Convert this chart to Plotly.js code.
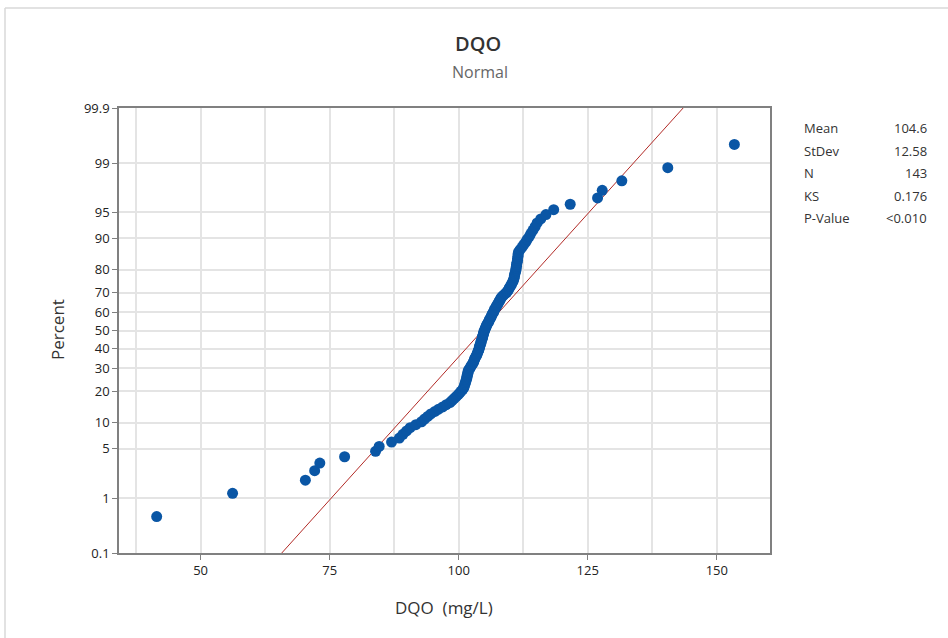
<!DOCTYPE html>
<html>
<head>
<meta charset="utf-8">
<script src="https://cdn.plot.ly/plotly-3.0.1.min.js"></script>
<style>html,body{margin:0;padding:0;background:#fff;}#chart{width:948px;height:638px;}</style>
</head>
<body>
<div id="chart"></div>
<script>
var dqoValues = [
  41.5, 56.2, 70.3, 72.1, 73.1, 77.9,
  83.9, 84.6, 87.0, 88.5, 89.2, 89.9, 90.6, 91.7, 92.8, 93.4,
  94.0, 94.6, 95.4, 96.1, 96.9, 97.6, 98.3, 98.7, 99.1, 99.5,
  99.9, 100.2, 100.5, 100.8, 101.0, 101.1, 101.2, 101.3, 101.4, 101.5,
  101.6, 101.6, 101.7, 101.8, 101.8, 101.9, 102.1, 102.3, 102.4, 102.6,
  102.8, 102.9, 103.0, 103.1, 103.2, 103.4, 103.5, 103.6, 103.7, 103.8,
  103.9, 104.0, 104.0, 104.1, 104.2, 104.3, 104.3, 104.4, 104.5, 104.6,
  104.6, 104.7, 104.8, 104.8, 104.9, 105.0, 105.1, 105.2, 105.3, 105.4,
  105.5, 105.7, 105.8, 105.9, 106.0, 106.2, 106.3, 106.4, 106.5, 106.7,
  106.8, 106.9, 107.0, 107.2, 107.3, 107.5, 107.6, 107.8, 107.9, 108.1,
  108.2, 108.4, 108.7, 109.0, 109.3, 109.5, 109.7, 109.8, 110.0, 110.2,
  110.3, 110.5, 110.6, 110.7, 110.8, 110.8, 110.9, 111.0, 111.1, 111.1,
  111.2, 111.2, 111.3, 111.4, 111.4, 111.5, 111.5, 111.6, 111.9, 112.3,
  112.6, 113.0, 113.3, 113.7, 114.0, 114.4, 114.8, 115.2, 115.9, 116.9,
  118.4,
  121.6, 126.9, 127.8, 131.6, 140.5, 153.4
];

// Summary statistics shown in the legend box
var statLabels = ["Mean", "StDev", "N", "KS", "P-Value"];
var statValues = ["104.6", "12.58", "143", "0.176", "&lt;0.010"];
var fitMean = 104.6;
var fitStDev = 12.58;

// Probability-scale ticks (percent)
var percentTicks = [0.1, 1, 5, 10, 20, 30, 40, 50, 60, 70, 80, 90, 95, 99, 99.9];
var percentTickLabels = ["0.1", "1", "5", "10", "20", "30", "40", "50", "60", "70", "80", "90", "95", "99", "99.9"];
var xTicks = [50, 75, 100, 125, 150];

// inverse standard normal CDF (Acklam)
function invNorm(p) {
  var a = [-3.969683028665376e+01, 2.209460984245205e+02, -2.759285104469687e+02, 1.383577518672690e+02, -3.066479806614716e+01, 2.506628277459239e+00];
  var b = [-5.447609879822406e+01, 1.615858368580409e+02, -1.556989798598866e+02, 6.680131188771972e+01, -1.328068155288572e+01];
  var c = [-7.784894002430293e-03, -3.223964580411365e-01, -2.400758296434431e+00, -2.549732539343734e+00, 4.374664141464968e+00, 2.938163982698783e+00];
  var d = [7.784695709041462e-03, 3.224671290700398e-01, 2.445134176683904e+00, 3.754408413603195e+00];
  var plow = 0.02425, phigh = 1 - plow, q, r;
  if (p < plow) {
    q = Math.sqrt(-2 * Math.log(p));
    return (((((c[0]*q+c[1])*q+c[2])*q+c[3])*q+c[4])*q+c[5]) / ((((d[0]*q+d[1])*q+d[2])*q+d[3])*q+1);
  } else if (p <= phigh) {
    q = p - 0.5; r = q*q;
    return (((((a[0]*r+a[1])*r+a[2])*r+a[3])*r+a[4])*r+a[5])*q / (((((b[0]*r+b[1])*r+b[2])*r+b[3])*r+b[4])*r+1);
  } else {
    q = Math.sqrt(-2 * Math.log(1 - p));
    return -(((((c[0]*q+c[1])*q+c[2])*q+c[3])*q+c[4])*q+c[5]) / ((((d[0]*q+d[1])*q+d[2])*q+d[3])*q+1);
  }
}

var n = dqoValues.length;
// median-rank plotting positions
var zVals = dqoValues.map(function (v, i) { return invNorm((i + 1 - 0.3) / (n + 0.4)); });
var pctText = dqoValues.map(function (v, i) { return ((i + 1 - 0.3) / (n + 0.4) * 100).toFixed(2); });

var zLo = invNorm(0.001), zHi = invNorm(0.999);
var fitLine = {
  x: [fitMean + fitStDev * zLo, fitMean + fitStDev * zHi],
  y: [zLo, zHi],
  mode: "lines",
  line: { color: "#b22a26", width: 1 },
  hoverinfo: "skip",
  showlegend: false
};
var pts = {
  x: dqoValues,
  y: zVals,
  text: pctText,
  mode: "markers",
  marker: { color: "#0a56a5", size: 11 },
  hovertemplate: "%{x}<br>%{text}%<extra></extra>",
  showlegend: false
};

var L = 119, R = 770, T = 108, B = 553;
var W = R - L, H = B - T;
function px2x(p) { return (p - L) / W; }
function py2y(p) { return 1 - (p - T) / H; }

var fontFam = "'Open Sans', 'Noto Sans', 'DejaVu Sans', sans-serif";
var annotations = [
  { text: "DQO", x: px2x(478), y: py2y(43), xref: "paper", yref: "paper", showarrow: false, xanchor: "center", yanchor: "middle", font: { family: fontFam, size: 20, weight: 600, color: "#333" } },
  { text: "Normal", x: px2x(480), y: py2y(72), xref: "paper", yref: "paper", showarrow: false, xanchor: "center", yanchor: "middle", font: { family: fontFam, size: 16, color: "#666" } },
  { text: "Percent", x: px2x(57), y: py2y(330), xref: "paper", yref: "paper", showarrow: false, textangle: -90, xanchor: "center", yanchor: "middle", font: { family: fontFam, size: 17, color: "#333" } },
  { text: "DQO\u00a0 (mg/L)", x: px2x(444), y: py2y(607), xref: "paper", yref: "paper", showarrow: false, xanchor: "center", yanchor: "middle", font: { family: fontFam, size: 17, color: "#333" } }
];
var rowY = [128, 151, 173, 196, 218];
statLabels.forEach(function (s, i) {
  annotations.push({ text: s, x: px2x(802), y: py2y(rowY[i]), xref: "paper", yref: "paper", showarrow: false, xanchor: "left", yanchor: "middle", font: { family: fontFam, size: 13, color: "#333" } });
  annotations.push({ text: statValues[i], x: px2x(929), y: py2y(rowY[i]), xref: "paper", yref: "paper", showarrow: false, xanchor: "right", yanchor: "middle", font: { family: fontFam, size: 13, color: "#333" } });
});

var layout = {
  width: 948, height: 638,
  margin: { l: L, r: 948 - R, t: T, b: 638 - B, pad: 0 },
  paper_bgcolor: "#fff", plot_bgcolor: "#fff",
  font: { family: fontFam, size: 13, color: "#333" },
  xaxis: {
    range: [34.2, 160.3],
    tickvals: xTicks,
    ticks: "outside", ticklen: 5, tickcolor: "#808080", tickwidth: 1,
    showgrid: true, gridcolor: "#e4e4e4", gridwidth: 1.5,
    minor: { tick0: 0, dtick: 12.5, showgrid: true, gridcolor: "#e4e4e4", gridwidth: 1.5, ticklen: 0 },
    showline: true, linecolor: "#808080", linewidth: 1.5, mirror: true,
    zeroline: false, fixedrange: true,
    tickfont: { family: fontFam, size: 13, color: "#222" }
  },
  yaxis: {
    range: [zLo, zHi],
    tickvals: percentTicks.map(function (p) { return invNorm(p / 100); }),
    ticktext: percentTickLabels,
    ticks: "outside", ticklen: 5, tickcolor: "#808080", tickwidth: 1,
    showgrid: true, gridcolor: "#e4e4e4", gridwidth: 1.5,
    showline: true, linecolor: "#808080", linewidth: 1.5, mirror: true,
    zeroline: false, fixedrange: true,
    tickfont: { family: fontFam, size: 13, color: "#222" }
  },
  annotations: annotations,
  shapes: [
    { type: "line", xref: "paper", yref: "paper", x0: px2x(5), x1: px2x(960), y0: py2y(8), y1: py2y(8), line: { color: "#d9d9d9", width: 1.5 } },
    { type: "line", xref: "paper", yref: "paper", x0: px2x(5), x1: px2x(5), y0: py2y(8), y1: py2y(650), line: { color: "#d9d9d9", width: 1.5 } }
  ],
  showlegend: false
};

Plotly.newPlot("chart", [fitLine, pts], layout, { displayModeBar: false });
</script>
</body>
</html>
